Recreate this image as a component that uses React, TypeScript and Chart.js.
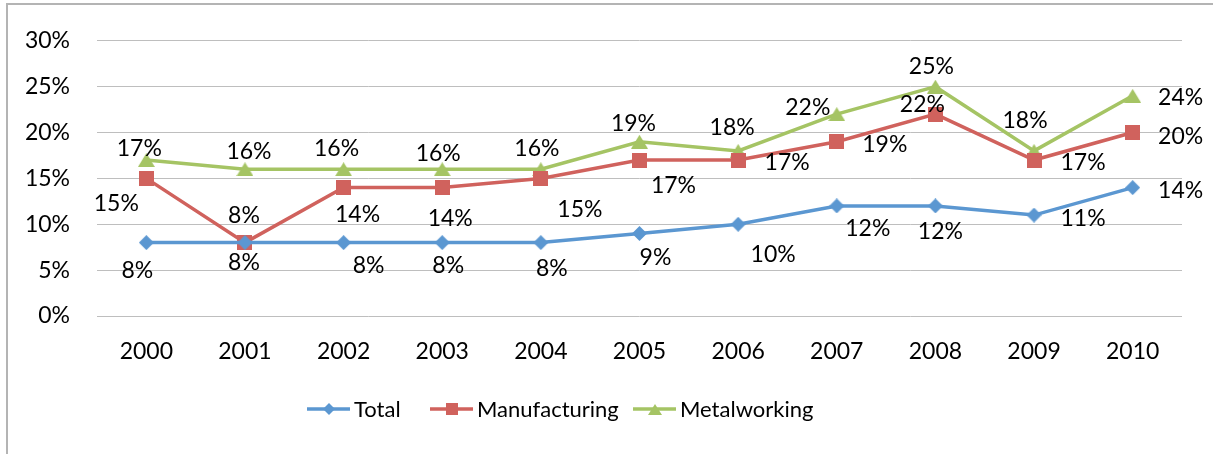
import React, { useEffect, useRef } from "react";
import { Chart, registerables } from "chart.js";

Chart.register(...registerables);

// Category axis
const years = ["2000", "2001", "2002", "2003", "2004", "2005", "2006", "2007", "2008", "2009", "2010"];

// Series values, in percent
const totalPct = [8, 8, 8, 8, 8, 9, 10, 12, 12, 11, 14];
const manufacturingPct = [15, 8, 14, 14, 15, 17, 17, 19, 22, 17, 20];
const metalworkingPct = [17, 16, 16, 16, 16, 19, 18, 22, 25, 18, 24];

// Value axis
const yMin = 0;
const yMax = 30;
const yStep = 5;

// Where each value label sits relative to its point (dx, dy in px)
const totalLabelOffsets = [
  [-9, 28], [-1, 20], [25, 23], [6, 23], [11, 26], [16, 24], [35, 30], [31, 23], [5, 26], [49, 3], [48, 3],
];
const manufacturingLabelOffsets = [
  [-30, 25], [-1, -27], [14, 27], [8, 31], [39, 31], [34, 26], [49, 3], [48, 3], [-13, -10], [49, 3], [48, 4],
];
const metalworkingLabelOffsets = [
  [-7, -11], [4, -18], [-7, -21], [-4, -16], [-4, -21], [-6, -18], [-6, -23], [-29, -7], [-4, -20], [-9, -30], [48, 2],
];

// Left edge of each legend entry
const legendStarts = [307, 430, 633];

const FONT = "Lato, 'Noto Sans', sans-serif";
const NUM_SIZE = 23;
const LEGEND_SIZE = 22;
const BLUE = "#5B97D1";
const RED = "#D0625D";
const GREEN = "#A5C464";

type MarkerKind = "diamond" | "square" | "triangle";

function makeMarker(kind: MarkerKind, color: string, scale = 1): HTMLCanvasElement {
  const c = document.createElement("canvas");
  const ctx = c.getContext("2d")!;
  if (kind === "diamond") {
    const s = Math.round(15 * scale);
    c.width = s;
    c.height = s;
    ctx.fillStyle = color;
    ctx.beginPath();
    ctx.moveTo(s / 2, 0);
    ctx.lineTo(s, s / 2);
    ctx.lineTo(s / 2, s);
    ctx.lineTo(0, s / 2);
    ctx.closePath();
    ctx.fill();
  } else if (kind === "square") {
    const s = Math.round(15 * scale);
    c.width = s;
    c.height = s;
    ctx.fillStyle = color;
    ctx.fillRect(0, 0, s, s);
  } else {
    const w = Math.round(17 * scale);
    const h = Math.round(14 * scale);
    c.width = w;
    c.height = h;
    ctx.fillStyle = color;
    ctx.beginPath();
    ctx.moveTo(w / 2, 0);
    ctx.lineTo(w, h);
    ctx.lineTo(0, h);
    ctx.closePath();
    ctx.fill();
  }
  return c;
}

// Draws "<value>%" next to every point
const valueLabelPlugin = {
  id: "valueLabels",
  afterDatasetsDraw(chart: any) {
    const ctx: CanvasRenderingContext2D = chart.ctx;
    ctx.save();
    ctx.font = `${NUM_SIZE}px ${FONT}`;
    ctx.fillStyle = "#000";
    ctx.textAlign = "center";
    ctx.textBaseline = "middle";
    chart.data.datasets.forEach((ds: any, di: number) => {
      const meta = chart.getDatasetMeta(di);
      const offsets: number[][] = ds.labelOffsets || [];
      meta.data.forEach((pt: any, i: number) => {
        const [dx, dy] = offsets[i] || [0, -18];
        ctx.fillText(`${ds.data[i]}%`, pt.x + dx, pt.y + dy);
      });
    });
    ctx.restore();
  },
};

// Line-and-marker legend below the plot
const seriesLegendPlugin = {
  id: "seriesLegend",
  afterDraw(chart: any) {
    const ctx: CanvasRenderingContext2D = chart.ctx;
    ctx.save();
    ctx.font = `${LEGEND_SIZE}px ${FONT}`;
    ctx.textAlign = "left";
    ctx.textBaseline = "middle";
    const y = 409;
    chart.data.datasets.forEach((ds: any, i: number) => {
      const x = legendStarts[i];
      ctx.strokeStyle = ds.borderColor;
      ctx.lineWidth = 3.5;
      ctx.beginPath();
      ctx.moveTo(x, y);
      ctx.lineTo(x + 43, y);
      ctx.stroke();
      const img: HTMLCanvasElement = ds.legendMarker;
      ctx.drawImage(img, Math.round(x + 21.5 - img.width / 2), Math.round(y - img.height / 2));
      ctx.fillStyle = "#000";
      ctx.fillText(ds.label, x + 47, y + 1);
    });
    ctx.restore();
  },
};

export default function App() {
  const canvasRef = useRef<HTMLCanvasElement | null>(null);

  useEffect(() => {
    const canvas = canvasRef.current;
    if (!canvas) return;
    Chart.defaults.font.family = FONT;

    const series = [
      { label: "Total", data: totalPct, color: BLUE, kind: "diamond" as MarkerKind, offsets: totalLabelOffsets },
      { label: "Manufacturing", data: manufacturingPct, color: RED, kind: "square" as MarkerKind, offsets: manufacturingLabelOffsets },
      { label: "Metalworking", data: metalworkingPct, color: GREEN, kind: "triangle" as MarkerKind, offsets: metalworkingLabelOffsets },
    ];

    const chart = new Chart(canvas, {
      type: "line",
      data: {
        labels: years,
        datasets: series.map((s) => ({
          label: s.label,
          data: s.data,
          borderColor: s.color,
          backgroundColor: s.color,
          borderWidth: 3.5,
          tension: 0,
          fill: false,
          pointStyle: makeMarker(s.kind, s.color),
          pointRadius: 7,
          pointHoverRadius: 7,
          labelOffsets: s.offsets,
          legendMarker: makeMarker(s.kind, s.color, 0.8),
        })) as any,
      },
      options: {
        animation: false,
        responsive: false,
        devicePixelRatio: 1,
        events: [],
        layout: { padding: { top: 39, left: 0, right: 31, bottom: 78 } },
        plugins: {
          legend: { display: false },
          tooltip: { enabled: false },
        },
        scales: {
          x: {
            type: "category",
            offset: true,
            grid: { display: false, drawTicks: false },
            border: { display: false },
            ticks: { color: "#000", font: { size: NUM_SIZE, family: FONT }, padding: 22, autoSkip: false, maxRotation: 0 },
            afterFit: (scale: any) => {
              scale.height = 60;
            },
          },
          y: {
            min: yMin,
            max: yMax,
            grid: { color: "#BEBEBE", lineWidth: 1, drawTicks: false },
            border: { display: false },
            ticks: {
              stepSize: yStep,
              color: "#000",
              font: { size: NUM_SIZE, family: FONT },
              padding: 27,
              callback: (v: any) => `${v}%`,
            },
            afterFit: (scale: any) => {
              scale.width = 97;
            },
          },
        },
      },
      plugins: [valueLabelPlugin, seriesLegendPlugin],
    });

    return () => chart.destroy();
  }, []);

  return (
    <div
      style={{
        position: "absolute",
        left: 0,
        top: 0,
        width: 1213,
        height: 454,
        overflow: "hidden",
        background: "#fff",
      }}
    >
      <div
        style={{
          position: "absolute",
          left: 6,
          top: 3,
          width: 1300,
          height: 500,
          border: "2px solid #B4B4B4",
        }}
      />
      <canvas ref={canvasRef} width={1213} height={454} style={{ position: "absolute", left: 0, top: 0 }} />
    </div>
  );
}
